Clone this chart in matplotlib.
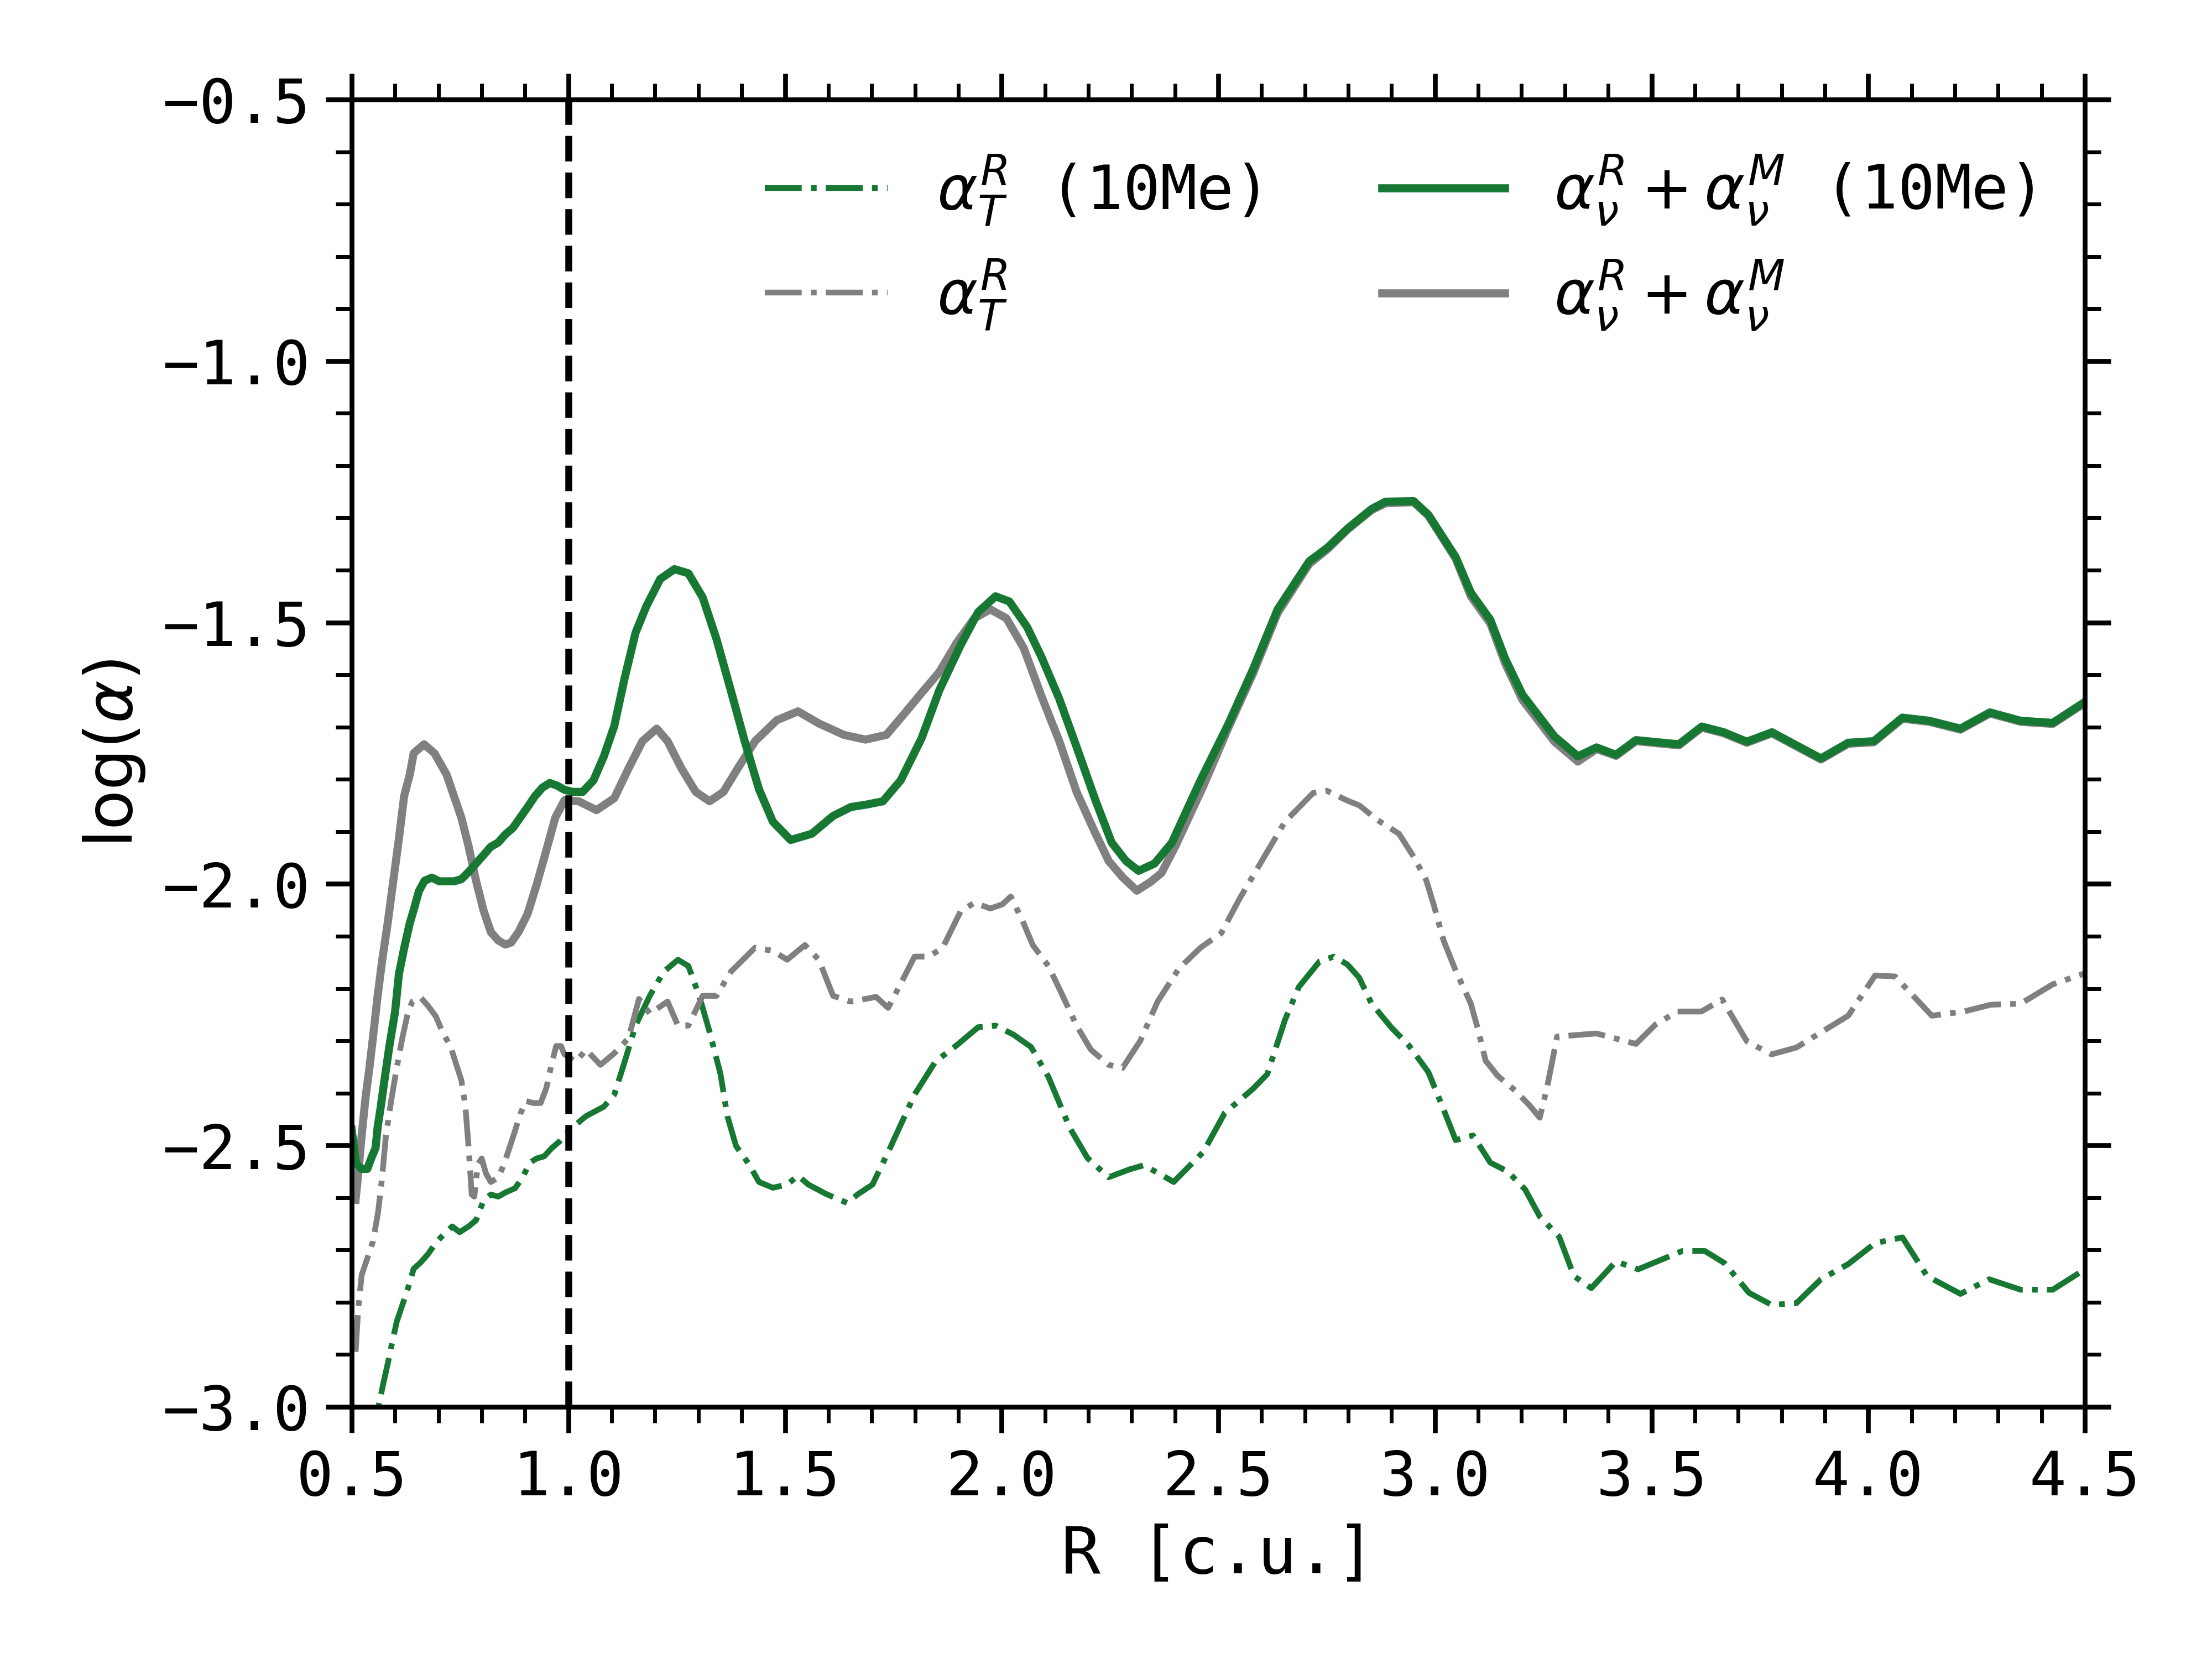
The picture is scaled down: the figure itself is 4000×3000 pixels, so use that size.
import matplotlib
matplotlib.use("Agg")
import matplotlib.pyplot as plt
from matplotlib.ticker import MultipleLocator

# ---------------- data ----------------
# alpha_nu^R + alpha_nu^M (10Me)  -- green solid
x_sol10 = [0.500, 0.510, 0.523, 0.536, 0.545, 0.555, 0.560, 0.566, 0.577, 0.587,
           0.600, 0.609, 0.621, 0.634, 0.643, 0.655, 0.668, 0.685, 0.702, 0.719,
           0.736, 0.753, 0.770, 0.787, 0.804, 0.821, 0.838, 0.855, 0.872, 0.889,
           0.906, 0.923, 0.940, 0.957, 0.974, 0.991, 1.010, 1.033, 1.058, 1.082,
           1.106, 1.130, 1.155, 1.180, 1.212, 1.245, 1.277, 1.310, 1.342, 1.375,
           1.407, 1.440, 1.472, 1.513, 1.562, 1.611, 1.652, 1.690, 1.726, 1.767,
           1.815, 1.856, 1.905, 1.946, 1.986, 2.018, 2.059, 2.092, 2.133, 2.173,
           2.217, 2.254, 2.287, 2.316, 2.353, 2.393, 2.459, 2.524, 2.580, 2.637,
           2.710, 2.752, 2.799, 2.854, 2.886, 2.951, 2.985, 3.048, 3.083, 3.128,
           3.162, 3.202, 3.276, 3.330, 3.373, 3.418, 3.464, 3.563, 3.616, 3.667,
           3.720, 3.778, 3.891, 3.954, 4.013, 4.079, 4.141, 4.213, 4.281, 4.352,
           4.426, 4.500]
y_sol10 = [-2.470, -2.535, -2.545, -2.545, -2.525, -2.505, -2.464, -2.432, -2.367, -2.310,
           -2.245, -2.172, -2.123, -2.075, -2.050, -2.014, -1.994, -1.988, -1.995, -1.995,
           -1.995, -1.991, -1.977, -1.961, -1.945, -1.929, -1.921, -1.905, -1.893, -1.873,
           -1.853, -1.832, -1.816, -1.807, -1.812, -1.820, -1.824, -1.824, -1.802, -1.756,
           -1.698, -1.606, -1.520, -1.469, -1.417, -1.398, -1.406, -1.452, -1.532, -1.630,
           -1.727, -1.819, -1.881, -1.916, -1.904, -1.870, -1.853, -1.848, -1.842, -1.802,
           -1.722, -1.630, -1.544, -1.480, -1.450, -1.460, -1.509, -1.566, -1.646, -1.738,
           -1.841, -1.921, -1.956, -1.975, -1.961, -1.921, -1.802, -1.693, -1.590, -1.475,
           -1.383, -1.357, -1.320, -1.283, -1.269, -1.268, -1.294, -1.375, -1.443, -1.495,
           -1.569, -1.638, -1.718, -1.756, -1.739, -1.753, -1.725, -1.733, -1.699, -1.710,
           -1.728, -1.710, -1.760, -1.730, -1.727, -1.682, -1.688, -1.703, -1.672, -1.688,
           -1.692, -1.652]

# alpha_nu^R + alpha_nu^M  -- gray solid
x_sol = [0.509, 0.515, 0.523, 0.532, 0.541, 0.549, 0.560, 0.570, 0.583, 0.596,
         0.609, 0.621, 0.634, 0.643, 0.667, 0.691, 0.719, 0.736, 0.753, 0.770,
         0.787, 0.804, 0.821, 0.838, 0.855, 0.868, 0.885, 0.906, 0.927, 0.949,
         0.970, 0.991, 1.024, 1.065, 1.106, 1.139, 1.171, 1.204, 1.229, 1.261,
         1.294, 1.326, 1.358, 1.391, 1.431, 1.481, 1.530, 1.578, 1.636, 1.686,
         1.734, 1.775, 1.815, 1.856, 1.897, 1.937, 1.974, 2.011, 2.051, 2.092,
         2.133, 2.173, 2.214, 2.247, 2.279, 2.312, 2.344, 2.369, 2.401, 2.466,
         2.524, 2.580, 2.637, 2.710, 2.752, 2.799, 2.854, 2.886, 2.951, 2.985,
         3.048, 3.083, 3.128, 3.162, 3.202, 3.276, 3.330, 3.373, 3.418, 3.464,
         3.563, 3.616, 3.667, 3.720, 3.778, 3.891, 3.954, 4.013, 4.079, 4.141,
         4.213, 4.281, 4.352, 4.426, 4.500]
y_sol = [-2.604, -2.554, -2.481, -2.408, -2.351, -2.294, -2.213, -2.148, -2.075, -1.994,
         -1.913, -1.832, -1.791, -1.750, -1.733, -1.750, -1.791, -1.832, -1.873, -1.929,
         -1.994, -2.050, -2.092, -2.108, -2.116, -2.112, -2.092, -2.057, -2.001, -1.936,
         -1.873, -1.840, -1.842, -1.859, -1.836, -1.779, -1.727, -1.703, -1.727, -1.779,
         -1.824, -1.842, -1.824, -1.779, -1.727, -1.687, -1.670, -1.693, -1.715, -1.724,
         -1.715, -1.675, -1.635, -1.595, -1.538, -1.492, -1.475, -1.492, -1.549, -1.641,
         -1.727, -1.824, -1.899, -1.956, -1.987, -2.013, -1.996, -1.979, -1.928, -1.812,
         -1.700, -1.598, -1.482, -1.388, -1.360, -1.322, -1.285, -1.272, -1.270, -1.296,
         -1.378, -1.450, -1.502, -1.578, -1.648, -1.728, -1.766, -1.742, -1.755, -1.727,
         -1.735, -1.701, -1.712, -1.730, -1.712, -1.762, -1.732, -1.729, -1.684, -1.690,
         -1.705, -1.674, -1.690, -1.694, -1.654]

# alpha_T^R (10Me)  -- green dash-dot
x_dd10 = [0.540, 0.561, 0.572, 0.583, 0.591, 0.604, 0.617, 0.630, 0.643, 0.659,
          0.676, 0.694, 0.711, 0.732, 0.749, 0.770, 0.787, 0.804, 0.821, 0.838,
          0.855, 0.877, 0.894, 0.911, 0.927, 0.944, 0.962, 0.979, 0.991, 1.009,
          1.041, 1.082, 1.106, 1.130, 1.155, 1.188, 1.220, 1.253, 1.277, 1.302,
          1.326, 1.351, 1.367, 1.387, 1.416, 1.440, 1.472, 1.505, 1.530, 1.554,
          1.595, 1.643, 1.669, 1.702, 1.742, 1.799, 1.847, 1.897, 1.946, 1.986,
          2.027, 2.068, 2.108, 2.157, 2.198, 2.247, 2.295, 2.328, 2.368, 2.397,
          2.466, 2.515, 2.580, 2.613, 2.654, 2.686, 2.734, 2.767, 2.798, 2.825,
          2.854, 2.900, 2.940, 2.985, 3.019, 3.048, 3.088, 3.128, 3.168, 3.208,
          3.242, 3.287, 3.321, 3.361, 3.418, 3.469, 3.571, 3.623, 3.668, 3.725,
          3.777, 3.834, 3.891, 3.954, 4.016, 4.079, 4.136, 4.213, 4.279, 4.352,
          4.426, 4.500]
y_dd10 = [-3.090, -3.003, -2.959, -2.918, -2.886, -2.837, -2.805, -2.773, -2.736, -2.724,
          -2.708, -2.687, -2.671, -2.655, -2.666, -2.655, -2.643, -2.606, -2.594, -2.598,
          -2.590, -2.582, -2.562, -2.533, -2.525, -2.521, -2.505, -2.493, -2.481, -2.466,
          -2.444, -2.426, -2.403, -2.340, -2.271, -2.214, -2.168, -2.145, -2.157, -2.214,
          -2.283, -2.363, -2.444, -2.501, -2.535, -2.570, -2.581, -2.575, -2.558, -2.575,
          -2.593, -2.610, -2.593, -2.575, -2.506, -2.403, -2.340, -2.308, -2.274, -2.271,
          -2.288, -2.312, -2.369, -2.466, -2.524, -2.561, -2.546, -2.538, -2.556, -2.570,
          -2.512, -2.438, -2.392, -2.364, -2.260, -2.197, -2.148, -2.139, -2.154, -2.179,
          -2.229, -2.275, -2.309, -2.360, -2.429, -2.490, -2.481, -2.533, -2.550, -2.584,
          -2.636, -2.675, -2.750, -2.773, -2.722, -2.737, -2.702, -2.702, -2.725, -2.782,
          -2.805, -2.802, -2.756, -2.727, -2.687, -2.676, -2.750, -2.784, -2.756, -2.776,
          -2.776, -2.737]

# alpha_T^R  -- gray dash-dot
x_dd = [0.509, 0.515, 0.523, 0.536, 0.549, 0.561, 0.570, 0.579, 0.591, 0.604,
        0.617, 0.630, 0.640, 0.659, 0.676, 0.694, 0.711, 0.728, 0.740, 0.753,
        0.762, 0.770, 0.777, 0.783, 0.791, 0.800, 0.810, 0.821, 0.838, 0.851,
        0.864, 0.877, 0.889, 0.902, 0.919, 0.936, 0.949, 0.962, 0.972, 0.983,
        0.991, 1.017, 1.041, 1.074, 1.106, 1.139, 1.163, 1.188, 1.229, 1.253,
        1.277, 1.310, 1.342, 1.375, 1.431, 1.472, 1.505, 1.546, 1.578, 1.611,
        1.651, 1.692, 1.710, 1.738, 1.767, 1.799, 1.832, 1.864, 1.905, 1.937,
        1.974, 2.002, 2.021, 2.048, 2.072, 2.108, 2.141, 2.173, 2.206, 2.247,
        2.279, 2.320, 2.360, 2.409, 2.459, 2.507, 2.548, 2.597, 2.654, 2.719,
        2.751, 2.799, 2.826, 2.866, 2.917, 2.951, 2.980, 2.997, 3.020, 3.048,
        3.083, 3.100, 3.117, 3.145, 3.185, 3.219, 3.242, 3.259, 3.282, 3.373,
        3.464, 3.509, 3.560, 3.615, 3.663, 3.720, 3.777, 3.834, 3.954, 4.016,
        4.062, 4.147, 4.221, 4.283, 4.352, 4.426, 4.500]
y_dd = [-2.895, -2.813, -2.748, -2.716, -2.684, -2.627, -2.562, -2.481, -2.415, -2.351,
        -2.294, -2.245, -2.225, -2.217, -2.233, -2.253, -2.286, -2.310, -2.342, -2.375,
        -2.423, -2.505, -2.594, -2.598, -2.537, -2.525, -2.554, -2.570, -2.562, -2.537,
        -2.505, -2.472, -2.440, -2.415, -2.419, -2.419, -2.391, -2.342, -2.310, -2.310,
        -2.326, -2.340, -2.317, -2.346, -2.324, -2.295, -2.220, -2.248, -2.225, -2.271,
        -2.271, -2.214, -2.214, -2.168, -2.122, -2.128, -2.145, -2.117, -2.145, -2.214,
        -2.225, -2.219, -2.216, -2.237, -2.191, -2.139, -2.139, -2.122, -2.053, -2.036,
        -2.047, -2.039, -2.024, -2.070, -2.117, -2.157, -2.214, -2.271, -2.317, -2.346,
        -2.352, -2.300, -2.225, -2.162, -2.122, -2.094, -2.030, -1.961, -1.881, -1.826,
        -1.822, -1.841, -1.850, -1.877, -1.904, -1.948, -1.993, -2.039, -2.108, -2.166,
        -2.229, -2.280, -2.338, -2.367, -2.395, -2.424, -2.447, -2.389, -2.292, -2.286,
        -2.306, -2.269, -2.244, -2.244, -2.221, -2.301, -2.326, -2.313, -2.252, -2.175,
        -2.177, -2.252, -2.244, -2.231, -2.229, -2.192, -2.171]

x_ticks = [0.5, 1.0, 1.5, 2.0, 2.5, 3.0, 3.5, 4.0, 4.5]
y_ticks = [-3.0, -2.5, -2.0, -1.5, -1.0, -0.5]
r_boundary = 1.0

labels = [r'$\alpha_T^R$ (10Me)', r'$\alpha_T^R$',
          r'$\alpha_\nu^R+\alpha_\nu^M$ (10Me)', r'$\alpha_\nu^R+\alpha_\nu^M$']

# ---------------- style ----------------
GREEN = '#167833'
GRAY = '#808080'
plt.rcParams['font.family'] = ['DejaVu Sans Mono', 'DejaVu Sans']
plt.rcParams['mathtext.fontset'] = 'dejavusans'
plt.rcParams['font.size'] = 16

fig = plt.figure(figsize=(8, 6), dpi=500)
ax = fig.add_axes([0.159, 0.152, 0.7835, 0.788])

l1, = ax.plot(x_dd10, y_dd10, color=GREEN, lw=1.5, ls='-.')
l2, = ax.plot(x_dd, y_dd, color=GRAY, lw=1.5, ls='-.')
l4, = ax.plot(x_sol, y_sol, color=GRAY, lw=2.1, ls='-')
l3, = ax.plot(x_sol10, y_sol10, color=GREEN, lw=2.1, ls='-')
ax.axvline(r_boundary, color='black', lw=1.8, ls='--')

ax.set_xlim(0.5, 4.5)
ax.set_ylim(-3.0, -0.5)
ax.set_xticks(x_ticks)
ax.set_yticks(y_ticks)
ax.xaxis.set_minor_locator(MultipleLocator(0.1))
ax.yaxis.set_minor_locator(MultipleLocator(0.1))
ax.tick_params(which='both', direction='out', top=True, right=True)
ax.tick_params(which='major', length=6.8, width=1.25, pad=4)
ax.tick_params(which='minor', length=4.2, width=1.0)
for sp in ax.spines.values():
    sp.set_linewidth(1.25)

ax.set_xlabel('R [c.u.]', fontsize=17)
ax.set_ylabel(r'$\log(\alpha)$', fontsize=17)

ax.legend([l1, l2, l3, l4], labels, ncol=2, frameon=False,
          loc='upper right', bbox_to_anchor=(1.006, 1.006),
          fontsize=16, borderaxespad=0.6)

fig.savefig('out.png', dpi=500)
